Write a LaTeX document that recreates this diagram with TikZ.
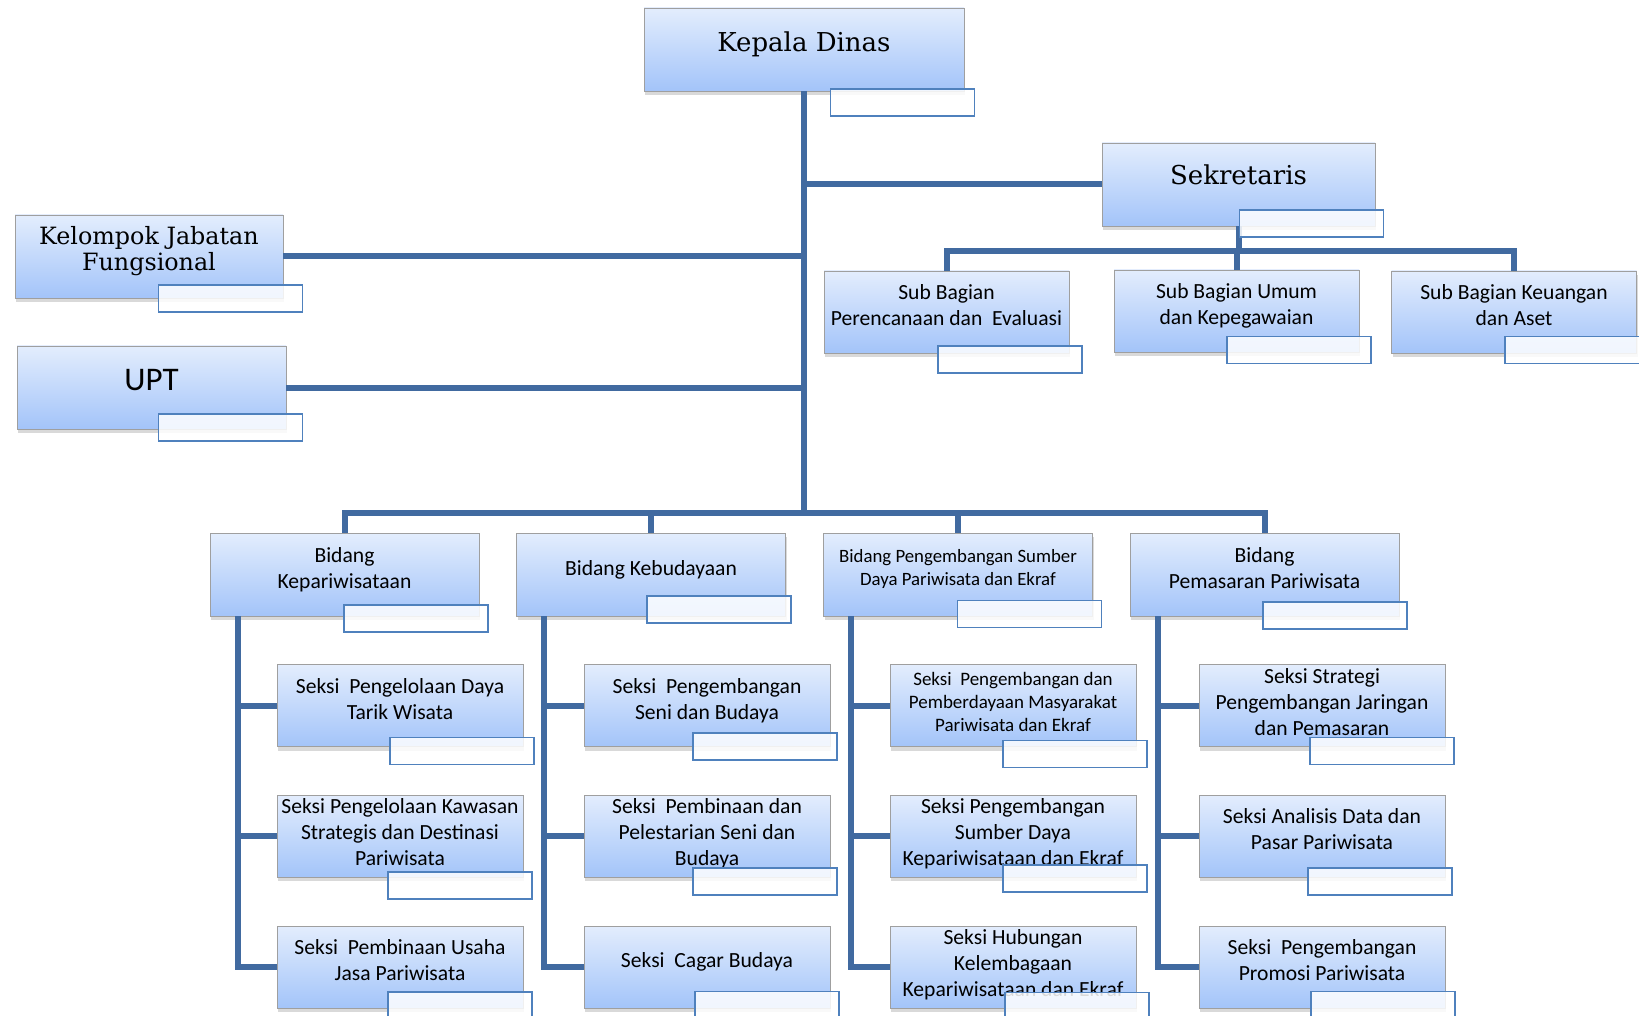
\documentclass[tikz,border=0pt]{standalone}
\usepackage{fontspec}
\setmainfont{Carlito}
\newfontfamily\headfont{DejaVu Serif}
\usepackage{tikz}
\definecolor{topblue}{RGB}{227,237,253}
\definecolor{botblue}{RGB}{163,196,249}
\definecolor{linkblue}{RGB}{65,106,160}
\definecolor{idblue}{RGB}{79,129,189}
\tikzset{
     unitbox/.style={rectangle,draw=gray!75,top color=topblue,bottom color=botblue,
        drop shadow={opacity=0.3,shadow xshift=0.6pt,shadow yshift=-2pt},align=center,
        inner xsep=1pt,inner ysep=2pt,text depth=7pt},
     topbox/.style={unitbox,minimum height=41.5pt,text depth=8pt},
     subbox/.style={unitbox,minimum width=122.5pt,minimum height=41pt,font=\fontsize{10.8}{13}\selectfont},
     bidbox/.style={unitbox,minimum width=134.5pt,minimum height=41.5pt,font=\fontsize{10.8}{13}\selectfont},
     seksibox/.style={unitbox,minimum width=123pt,minimum height=41pt,font=\fontsize{10.8}{13}\selectfont},
     threeline/.style={inner ysep=0pt,text depth=4pt},
     idbox/.style={draw=idblue,line width=0.9pt,fill=white,fill opacity=0.85,
        minimum width=72pt,minimum height=13.5pt,inner sep=0pt,anchor=north east},
     link/.style={draw=linkblue,line width=3pt}
     }
\usetikzlibrary{positioning,shadows}

\begin{document}
\begin{tikzpicture}[x=0.5pt,y=-0.5pt]
            \useasboundingbox (0,0) rectangle (1639,1016);
            % Place nodes
            \node[topbox,minimum width=160pt,font=\headfont\fontsize{13}{15}\selectfont] (kepala) at (804,49.5) {Kepala Dinas};
            \node[topbox,minimum width=136.5pt,font=\headfont\fontsize{13}{15}\selectfont,text depth=10pt] (sekretaris) at (1238.5,184.5) {Sekretaris};
            \node[topbox,minimum width=134pt,font=\headfont\fontsize{11.9}{13}\selectfont] (kjf) at (149,256.5) {Kelompok Jabatan\\Fungsional};
            \node[topbox,minimum width=134.5pt,font=\fontsize{16.5}{19}\selectfont] (upt) at (151.5,387.5) {UPT};
            \node[subbox] (sbp) at (946.5,312) {Sub Bagian\\Perencanaan dan~ Evaluasi};
            \node[subbox] (sbu) at (1236.5,311) {Sub Bagian Umum\\dan Kepegawaian};
            \node[subbox] (sbk) at (1514,312) {Sub Bagian Keuangan\\dan Aset};
            \node[bidbox] (bid1) at (344.5,574.5) {Bidang\\Kepariwisataan};
            \node[bidbox] (bid2) at (651,574.5) {Bidang Kebudayaan};
            \node[bidbox,font=\fontsize{9.4}{11.5}\selectfont] (bid3) at (958,574.5) {Bidang Pengembangan Sumber\\Daya Pariwisata dan Ekraf};
            \node[bidbox] (bid4) at (1264.5,574.5) {Bidang\\Pemasaran Pariwisata};
            \node[seksibox] (sek11) at (400,705.5) {Seksi~ Pengelolaan Daya\\Tarik Wisata};
            \node[seksibox,threeline] (sek12) at (400,836) {Seksi Pengelolaan Kawasan\\Strategis dan Destinasi\\Pariwisata};
            \node[seksibox] (sek13) at (400,967) {Seksi~ Pembinaan Usaha\\Jasa Pariwisata};
            \node[seksibox] (sek21) at (707,705.5) {Seksi~ Pengembangan\\Seni dan Budaya};
            \node[seksibox,threeline] (sek22) at (707,836) {Seksi~ Pembinaan dan\\Pelestarian Seni dan\\Budaya};
            \node[seksibox] (sek23) at (707,967) {Seksi~ Cagar Budaya};
            \node[seksibox,threeline,font=\fontsize{9.5}{11.5}\selectfont] (sek31) at (1013,705.5) {Seksi~ Pengembangan dan\\Pemberdayaan Masyarakat\\Pariwisata dan Ekraf};
            \node[seksibox,threeline] (sek32) at (1013,836) {Seksi Pengembangan\\Sumber Daya\\Kepariwisataan dan Ekraf};
            \node[seksibox,threeline] (sek33) at (1013,967) {Seksi Hubungan\\Kelembagaan\\Kepariwisataan dan Ekraf};
            \node[seksibox,threeline] (sek41) at (1322,705.5) {Seksi Strategi\\Pengembangan Jaringan\\dan Pemasaran};
            \node[seksibox] (sek42) at (1322,836) {Seksi Analisis Data dan\\Pasar Pariwisata};
            \node[seksibox] (sek43) at (1322,967) {Seksi~ Pengembangan\\Promosi Pariwisata};
            \coordinate (hub) at (804,513);
            \coordinate (subhub) at (1237,251);
            % Draw edges
            \draw[link] (kepala.south) -- (hub);
            \draw[link] (sekretaris.west) -- (sekretaris.west -| hub);
            \draw[link] (kjf.east) -- (kjf.east -| hub);
            \draw[link] (upt.east) -- (upt.east -| hub);
            \draw[link] (sekretaris.south) -- (sekretaris.south |- subhub);
            \draw[link] (sbp.north) |- (subhub) -| (sbk.north);
            \draw[link] (sbu.north) -- (sbu.north |- subhub);
            \draw[link] (bid1.north) |- (hub) -| (bid4.north);
            \draw[link] (bid2.north) -- (bid2.north |- hub);
            \draw[link] (bid3.north) -- (bid3.north |- hub);
            \foreach \c in {1,2,3,4} {
              \coordinate (spine\c) at ([xshift=14pt]bid\c.south west);
              \draw[link] (spine\c) |- (sek\c3.west);
              \draw[link] (sek\c1.west -| spine\c) -- (sek\c1.west);
              \draw[link] (sek\c2.west -| spine\c) -- (sek\c2.west);
            }
            % Code boxes (right overhang / rise above the bottom edge, in pt)
            \foreach \n/\dx/\dy in {kepala/5.5/1.5,sekretaris/4.5/8.5,kjf/10/7,upt/8.5/8,
                sbp/6.8/4.2,sbu/6.3/8.4,sbk/6.3/8.9,bid1/4.7/6.3,bid2/3.1/10.5,bid3/4.7/8.4,bid4/4.2/7.8,
                sek11/5.7/5.2,sek12/4.7/3.1,sek13/4.7/8.5,sek21/3.7/7.3,sek22/3.7/5.2,sek23/4.7/8.9,
                sek31/5.7/3.7,sek32/5.7/6.8,sek33/6.8/8.4,sek41/4.7/5.2,sek42/3.7/5.2,sek43/5.2/8.9}
              \node[idbox] (\n-id) at ([xshift=\dx pt,yshift=\dy pt]\n.south east) {};
        \end{tikzpicture}
\end{document}
